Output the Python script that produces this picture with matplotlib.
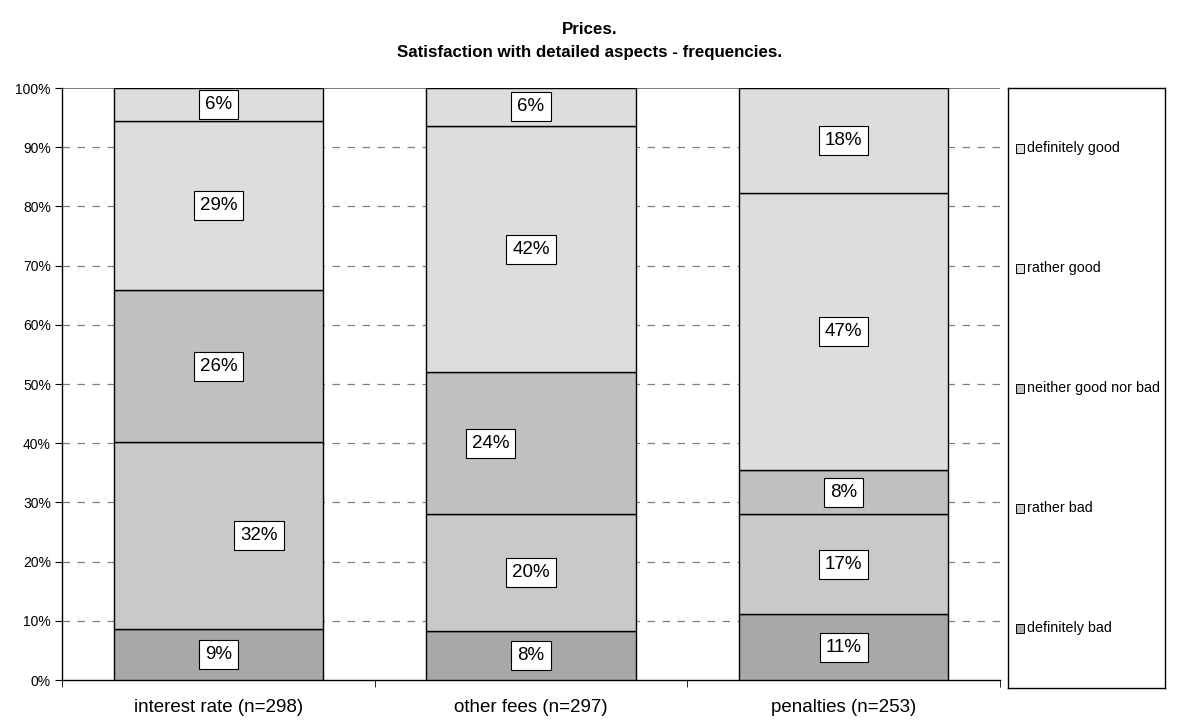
import matplotlib.pyplot as plt
import numpy as np
from matplotlib.patches import Rectangle

plt.rcParams['font.family'] = ['Liberation Sans', 'DejaVu Sans']

categories = ['interest rate (n=298)', 'other fees (n=297)', 'penalties (n=253)']
levels = ['definitely bad', 'rather bad', 'neither good nor bad', 'rather good', 'definitely good']
definitely_bad = [8.6, 8.3, 11.1]
rather_bad = [31.6, 19.7, 16.9]
neither = [25.6, 24.0, 7.5]
rather_good = [28.6, 41.6, 46.8]
definitely_good = [5.6, 6.4, 17.7]
series = [definitely_bad, rather_bad, neither, rather_good, definitely_good]
colors = ['#a8a8a8', '#c9c9c9', '#c0c0c0', '#dddddd', '#dddddd']
# label x offsets (in category units) where the boxes were nudged sideways
label_dx = {(0, 1): 0.13, (1, 2): -0.13}

W, H = 1180, 724
fig = plt.figure(figsize=(W / 100, H / 100), dpi=100)
ax = fig.add_axes([62 / W, 1 - 680 / H, 938 / W, 592 / H])

x = np.arange(len(categories))
bottom = np.zeros(len(categories))
for i, (vals, c) in enumerate(zip(series, colors)):
    vals = np.array(vals)
    ax.bar(x, vals, 0.67, bottom=bottom, color=c, edgecolor='black', linewidth=1.0, zorder=3)
    for j, v in enumerate(vals):
        ax.text(x[j] + label_dx.get((j, i), 0), bottom[j] + v / 2, f'{v:.0f}%',
                ha='center', va='center', fontsize=13.5, zorder=5,
                bbox=dict(boxstyle='square,pad=0.32', fc='white', ec='black', lw=0.8))
    bottom += vals

ax.set_xlim(-0.5, 2.5)
ax.set_ylim(0, 100)
yt = np.arange(0, 101, 10)
ax.set_yticks(yt)
ax.set_yticklabels([f'{t}%' for t in yt], fontsize=10)
for t in yt[1:-1]:
    ax.axhline(t, color='#808080', lw=0.9, ls=(0, (6, 6)), zorder=1)
ax.axhline(100, color='#606060', lw=1.2, zorder=1)

ax.set_xticks(x)
ax.set_xticklabels(categories, fontsize=13.5)
ax.tick_params(axis='x', length=0, pad=14)
ax.set_xticks([-0.5, 0.5, 1.5, 2.5], minor=True)
ax.tick_params(axis='x', which='minor', length=5, direction='out')
ax.tick_params(axis='y', length=5, direction='out', pad=3)

for s in ['top', 'right']:
    ax.spines[s].set_visible(False)
ax.spines['left'].set_linewidth(1.0)
ax.spines['bottom'].set_linewidth(1.0)

fig.text(0.5, 1 - 30 / H, 'Prices.', ha='center', va='center', fontsize=12.2, fontweight='bold')
fig.text(0.5, 1 - 52 / H, 'Satisfaction with detailed aspects - frequencies.', ha='center', va='center',
         fontsize=12.2, fontweight='bold')

# legend box
lax = fig.add_axes([1008 / W, 1 - 688 / H, 157 / W, 600 / H])
lax.set_xlim(0, 1)
lax.set_ylim(0, 1)
lax.set_xticks([])
lax.set_yticks([])
for s in lax.spines.values():
    s.set_linewidth(1.0)
for i, lab in enumerate(levels[::-1]):
    k = len(levels) - 1 - i
    ly = 1 - (i + 0.5) / len(levels)
    lax.add_patch(Rectangle((0.05, ly - 0.008), 0.05, 0.014, fc=colors[k], ec='black', lw=0.7))
    lax.text(0.12, ly, lab, va='center', ha='left', fontsize=10.3)

fig.savefig('out.png', dpi=100)
